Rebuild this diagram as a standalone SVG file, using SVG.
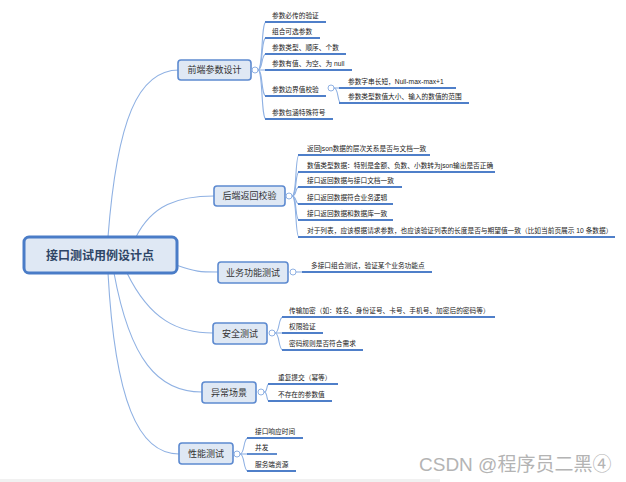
<svg xmlns="http://www.w3.org/2000/svg" width="626" height="482" viewBox="0 0 626 482">
<style>
.cn{fill:none;stroke:#8fb1e3;stroke-width:1.1}
.ul{stroke:#4f7fc9;stroke-width:1.8;fill:none}
.bx{fill:#dfe8f4;stroke:#5d8ad0;stroke-width:1.6}
.mx{fill:#dfe8f4;stroke:#4a7cc7;stroke-width:3}
.dot{fill:#fff;stroke:#8fb1e3;stroke-width:1}
.lt{font-family:"Liberation Sans","Noto Sans CJK SC",sans-serif;font-size:6.7px;fill:#222}
.bt{font-family:"Liberation Sans","Noto Sans CJK SC",sans-serif;font-size:9px;fill:#333;text-anchor:middle}
.mt{font-family:"Liberation Sans","Noto Sans CJK SC",sans-serif;font-size:12px;font-weight:bold;fill:#2e4566;text-anchor:middle}
.wm{font-family:"Liberation Sans","Noto Sans CJK SC",sans-serif;font-size:19px;fill:#b4b4b4}
</style>
<rect x="0" y="0" width="626" height="482" fill="#fff"/>
<rect x="0" y="479" width="440" height="3" fill="#f1f1f1"/>

<g id="connectors">
  <!-- main to branches -->
  <path class="cn" d="M108,237 C117,120 138,70 179,70"/>
  <path class="cn" d="M136,237 C152,205 178,196 214,196"/>
  <path class="cn" d="M176,265 C196,272 200,272 218,272"/>
  <path class="cn" d="M127,273 C150,320 178,333 213,333"/>
  <path class="cn" d="M114,273 C130,360 158,392 202,392"/>
  <path class="cn" d="M108,273 C115,400 138,454 179,454"/>
  <!-- group 1 -->
  <path class="cn" d="M258,70 C263,70 261,22 266,22"/>
  <path class="cn" d="M258,70 C263,70 261,38 266,38"/>
  <path class="cn" d="M258,70 C263,70 261,54 266,54"/>
  <path class="cn" d="M258,70 L266,70"/>
  <path class="cn" d="M258,70 C263,70 261,96 266,96"/>
  <path class="cn" d="M258,70 C263,70 261,119 266,119"/>
  <!-- sub group -->
  <path class="cn" d="M334,88 L340,88"/>
  <path class="cn" d="M334,88 C339,88 337,103 341,103"/>
  <!-- group 2 -->
  <path class="cn" d="M292,196 C297,196 295,155 299,155"/>
  <path class="cn" d="M292,196 C297,196 295,172 299,172"/>
  <path class="cn" d="M292,196 C297,196 295,187 299,187"/>
  <path class="cn" d="M292,196 C297,196 295,204 299,204"/>
  <path class="cn" d="M292,196 C297,196 295,220 299,220"/>
  <path class="cn" d="M292,196 C297,196 295,237 299,237"/>
  <!-- group 3 -->
  <path class="cn" d="M296,272 L303,272"/>
  <!-- group 4 -->
  <path class="cn" d="M275,333 C280,333 278,317 283,317"/>
  <path class="cn" d="M275,333 L283,333"/>
  <path class="cn" d="M275,333 C280,333 278,350 283,350"/>
  <!-- group 5 -->
  <path class="cn" d="M264,392 C268,392 266,384 269,384"/>
  <path class="cn" d="M264,392 C268,392 266,401 269,401"/>
  <!-- group 6 -->
  <path class="cn" d="M240,454 C245,454 243,438 248,438"/>
  <path class="cn" d="M240,454 L248,454"/>
  <path class="cn" d="M240,454 C245,454 243,471 248,471"/>
</g>

<g id="main">
  <rect class="mx" x="24" y="237" width="153" height="36" rx="5"/>
  <text class="mt" x="100" y="259.5">接口测试用例设计点</text>
</g>

<g id="b1">
  <rect class="bx" x="178" y="60" width="73" height="20" rx="3"/>
  <text class="bt" x="214.5" y="73.3">前端参数设计</text>
  <circle class="dot" cx="255" cy="70" r="3"/>
</g>
<g id="b1-l1"><line class="ul" x1="265" y1="22" x2="326" y2="22"/><text class="lt" x="272" y="17.5">参数必传的验证</text></g>
<g id="b1-l2"><line class="ul" x1="265" y1="38" x2="320" y2="38"/><text class="lt" x="272" y="33.5">组合可选参数</text></g>
<g id="b1-l3"><line class="ul" x1="265" y1="54" x2="346" y2="54"/><text class="lt" x="272" y="49.5">参数类型、顺序、个数</text></g>
<g id="b1-l4"><line class="ul" x1="265" y1="70" x2="352" y2="70"/><text class="lt" x="272" y="65.5">参数有值、为空、为 null</text></g>
<g id="b1-l5"><line class="ul" x1="265" y1="96" x2="326" y2="96"/><text class="lt" x="272" y="91.5">参数边界值校验</text><circle class="dot" cx="331" cy="88" r="3"/></g>
<g id="b1-l5-s1"><line class="ul" x1="339" y1="88" x2="456" y2="88"/><text class="lt" x="348" y="83.5">参数字串长短，Null-max-max+1</text></g>
<g id="b1-l5-s2"><line class="ul" x1="339" y1="103" x2="469" y2="103"/><text class="lt" x="348" y="98.5">参数类型数值大小、输入的数值的范围</text></g>
<g id="b1-l6"><line class="ul" x1="265" y1="119" x2="333" y2="119"/><text class="lt" x="272" y="114.5">参数包涵特殊符号</text></g>

<g id="b2">
  <rect class="bx" x="214" y="186" width="71" height="20" rx="3"/>
  <text class="bt" x="249.5" y="199.3">后端返回校验</text>
  <circle class="dot" cx="289" cy="196" r="3"/>
</g>
<g id="b2-l1"><line class="ul" x1="298" y1="155" x2="430" y2="155"/><text class="lt" x="307" y="150.5">返回json数据的层次关系是否与文档一致</text></g>
<g id="b2-l2"><line class="ul" x1="298" y1="172" x2="495" y2="172"/><text class="lt" x="307" y="167.5">数值类型数据：特别是金额、负数、小数转为json输出是否正确</text></g>
<g id="b2-l3"><line class="ul" x1="298" y1="187" x2="402" y2="187"/><text class="lt" x="307" y="182.5">接口返回数据与接口文档一致</text></g>
<g id="b2-l4"><line class="ul" x1="298" y1="204" x2="393" y2="204"/><text class="lt" x="307" y="199.5">接口返回数据符合业务逻辑</text></g>
<g id="b2-l5"><line class="ul" x1="298" y1="220" x2="393" y2="220"/><text class="lt" x="307" y="215.5">接口返回数据和数据库一致</text></g>
<g id="b2-l6"><line class="ul" x1="298" y1="237" x2="615" y2="237"/><text class="lt" x="307" y="232.5">对于列表，应该根据请求参数，也应该验证列表的长度是否与期望值一致（比如当前页展示 10 条数据）</text></g>

<g id="b3">
  <rect class="bx" x="218" y="262" width="70" height="21" rx="3"/>
  <text class="bt" x="253" y="275.8">业务功能测试</text>
  <circle class="dot" cx="293" cy="272" r="3"/>
</g>
<g id="b3-l1"><line class="ul" x1="302" y1="272" x2="432" y2="272"/><text class="lt" x="311" y="267.5">多接口组合测试，验证某个业务功能点</text></g>

<g id="b4">
  <rect class="bx" x="213" y="323" width="54" height="21" rx="3"/>
  <text class="bt" x="240" y="336.8">安全测试</text>
  <circle class="dot" cx="272" cy="333" r="3"/>
</g>
<g id="b4-l1"><line class="ul" x1="282" y1="317" x2="495" y2="317"/><text class="lt" x="289" y="312.5">传输加密（如：姓名、身份证号、卡号、手机号、加密后的密码等）</text></g>
<g id="b4-l2"><line class="ul" x1="282" y1="333" x2="323" y2="333"/><text class="lt" x="289" y="328.5">权限验证</text></g>
<g id="b4-l3"><line class="ul" x1="282" y1="350" x2="363" y2="350"/><text class="lt" x="289" y="345.5">密码规则是否符合需求</text></g>

<g id="b5">
  <rect class="bx" x="202" y="382" width="54" height="21" rx="3"/>
  <text class="bt" x="229" y="395.8">异常场景</text>
  <circle class="dot" cx="261" cy="392" r="3"/>
</g>
<g id="b5-l1"><line class="ul" x1="268" y1="384" x2="338" y2="384"/><text class="lt" x="278" y="379.5">重复提交（幂等）</text></g>
<g id="b5-l2"><line class="ul" x1="268" y1="401" x2="332" y2="401"/><text class="lt" x="278" y="396.5">不存在的参数值</text></g>

<g id="b6">
  <rect class="bx" x="179" y="443" width="54" height="21" rx="3"/>
  <text class="bt" x="206" y="456.8">性能测试</text>
  <circle class="dot" cx="237" cy="454" r="3"/>
</g>
<g id="b6-l1"><line class="ul" x1="247" y1="438" x2="303" y2="438"/><text class="lt" x="255" y="433.5">接口响应时间</text></g>
<g id="b6-l2"><line class="ul" x1="247" y1="454" x2="277" y2="454"/><text class="lt" x="255" y="449.5">并发</text></g>
<g id="b6-l3"><line class="ul" x1="247" y1="471" x2="296" y2="471"/><text class="lt" x="255" y="466.5">服务端资源</text></g>

<text class="wm" x="419" y="471">CSDN @程序员二黑④</text>
</svg>
